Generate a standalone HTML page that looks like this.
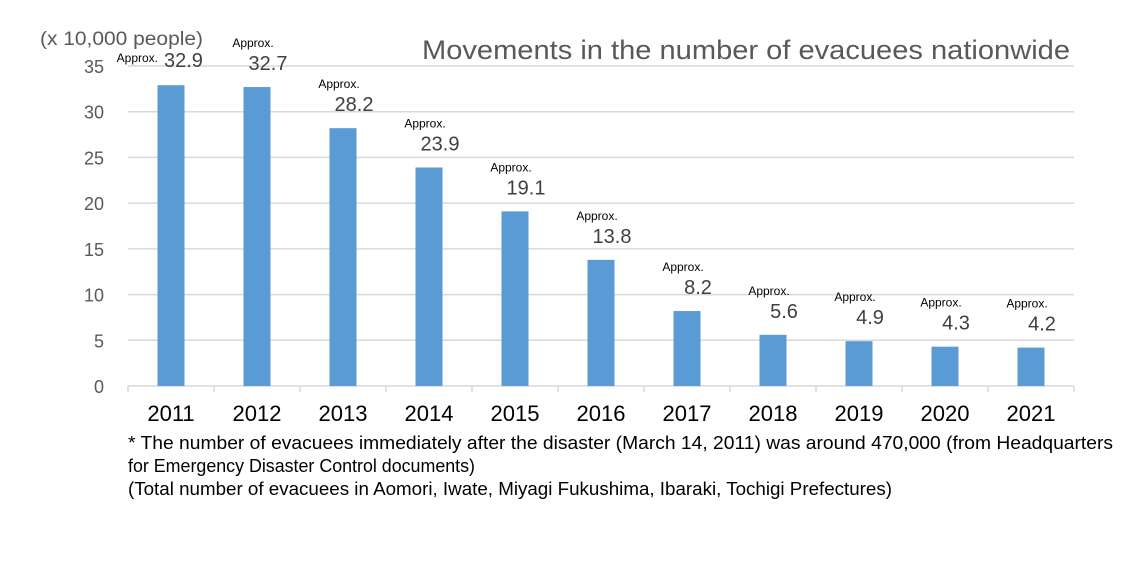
<!DOCTYPE html>
<html><head><meta charset="utf-8"><style>
body{margin:0;background:#fff;width:1122px;height:557px;overflow:hidden;font-family:"Liberation Sans",Arial,sans-serif}
</style></head><body>
<svg id="chart" width="1122" height="557" xmlns="http://www.w3.org/2000/svg" font-family="Liberation Sans, Arial, sans-serif">
<text x="422" y="59" font-size="27" fill="#595959" textLength="648" lengthAdjust="spacingAndGlyphs">Movements in the number of evacuees nationwide</text>
<text x="40" y="45" font-size="19" fill="#595959" textLength="163" lengthAdjust="spacingAndGlyphs">(x 10,000 people)</text>
<g id="grid"></g><g id="bars"></g><g id="labels"></g>
<text x="128" y="449" font-size="18" fill="#000" textLength="985" lengthAdjust="spacingAndGlyphs">* The number of evacuees immediately after the disaster (March 14, 2011) was around 470,000 (from Headquarters</text>
<text x="128" y="472" font-size="18" fill="#000" textLength="347" lengthAdjust="spacingAndGlyphs">for Emergency Disaster Control documents)</text>
<text x="128" y="495" font-size="18" fill="#000" textLength="764" lengthAdjust="spacingAndGlyphs">(Total number of evacuees in Aomori, Iwate, Miyagi Fukushima, Ibaraki, Tochigi Prefectures)</text>
</svg>
<script>
const categories=["2011","2012","2013","2014","2015","2016","2017","2018","2019","2020","2021"];
const values=[32.9,32.7,28.2,23.9,19.1,13.8,8.2,5.6,4.9,4.3,4.2];
const yTicks=[0,5,10,15,20,25,30,35];
const NS="http://www.w3.org/2000/svg";
const x0=128,x1=1074,yb=386,yt=66,ymax=35;
const bw=(x1-x0)/categories.length;
const y=v=>yb-(v/ymax)*(yb-yt);
const xc=i=>x0+bw*(i+0.5);
function mk(tag,attrs,parent){const e=document.createElementNS(NS,tag);for(const k in attrs)e.setAttribute(k,attrs[k]);parent.appendChild(e);return e;}
const grid=document.getElementById('grid'),bars=document.getElementById('bars'),labels=document.getElementById('labels');
yTicks.forEach(t=>{
  const l=mk('line',{x1:x0,x2:x1,y1:y(t),y2:y(t),stroke:'#d9d9d9','stroke-width':1.5},grid);
  
  
  const tx=mk('text',{x:104,y:y(t)+7,'text-anchor':'end','font-size':18,fill:'#595959'},grid);
  tx.textContent=t;
  
  
});
for(let i=0;i<=categories.length;i++){
  const tk=mk('line',{x1:x0+bw*i,x2:x0+bw*i,y1:yb,y2:yb+6,stroke:'#d9d9d9','stroke-width':1.5},grid);
  
  
}
categories.forEach((c,i)=>{
  const r=mk('rect',{x:xc(i)-13.5,y:y(values[i]),width:27,height:yb-y(values[i]),fill:'#5b9bd5'},bars);
  
  
  const xl=mk('text',{x:xc(i),y:yb+35,'text-anchor':'middle','font-size':22,fill:'#000'},labels);
  xl.textContent=c;
  
  
  const top=y(values[i]);
  let a,v;
  if(i===0){
    a=mk('text',{x:xc(i)-13,y:top-23,'text-anchor':'end','font-size':12,fill:'#000'},labels);
    v=mk('text',{x:xc(i)-7,y:top-18,'text-anchor':'start','font-size':20,fill:'#404040'},labels);
  } else {
    a=mk('text',{x:xc(i)-4,y:top-40,'text-anchor':'middle','font-size':12,fill:'#000'},labels);
    v=mk('text',{x:xc(i)+11,y:top-17,'text-anchor':'middle','font-size':20,fill:'#404040'},labels);
  }
  a.textContent='Approx.';
  
  
  v.textContent=values[i].toFixed(1);
  
  
});
</script>
</body></html>
